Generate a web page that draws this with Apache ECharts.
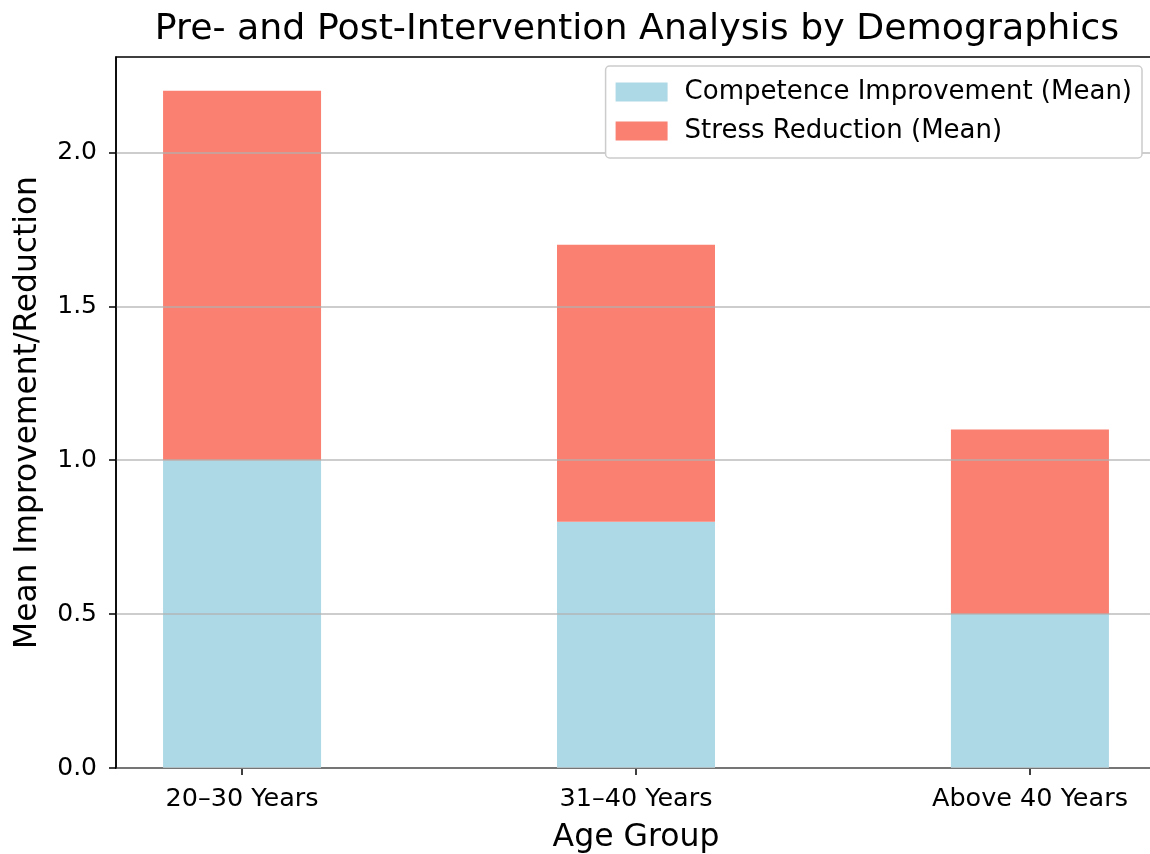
<!DOCTYPE html>
<html>
<head>
<meta charset="utf-8">
<script src="https://cdn.jsdelivr.net/npm/echarts@6/dist/echarts.min.js"></script>
<style>
html,body{margin:0;padding:0;background:#fff;}
#chart{width:1150px;height:854px;}
</style>
</head>
<body>
<div id="chart"></div>
<script>
const categories = ['20–30 Years', '31–40 Years', 'Above 40 Years'];
const competence = [1.0, 0.8, 0.5];
const stress = [1.2, 0.9, 0.6];
const seriesNames = ['Competence Improvement (Mean)', 'Stress Reduction (Mean)'];
const yTicks = [0.0, 0.5, 1.0, 1.5, 2.0];

const FONT = 'DejaVu Sans';
const chart = echarts.init(document.getElementById('chart'), null, {renderer: 'canvas'});

// value first, category index second (so the value dimension is the stacked one)
const toPairs = arr => arr.map((v, i) => [v, i]);
const catIdx = categories.map((c, i) => i);

chart.setOption({
  animation: false,
  backgroundColor: '#fff',
  textStyle: {fontFamily: FONT, color: '#000'},
  title: {
    text: 'Pre- and Post-Intervention Analysis by Demographics',
    left: 632,
    top: 7,
    textAlign: 'center',
    textStyle: {fontFamily: FONT, fontSize: 36.3, fontWeight: 'normal', color: '#000'}
  },
  legend: {
    orient: 'vertical',
    right: 8,
    top: 66,
    icon: 'rect',
    itemWidth: 52,
    itemHeight: 19,
    itemGap: 13,
    padding: [13, 10, 14, 10],
    borderColor: '#cccccc',
    borderWidth: 1.5,
    borderRadius: 4,
    backgroundColor: '#fff',
    textStyle: {fontFamily: FONT, fontSize: 26, color: '#000', padding: [0, 0, 0, 12]},
    data: seriesNames
  },
  grid: {
    left: 116, top: 57, right: -6, bottom: 86,
    outerBoundsMode: 'none',
    containLabel: false,
    show: true, borderColor: '#000', borderWidth: 1.5, backgroundColor: 'transparent'
  },
  xAxis: {
    type: 'value',
    min: -0.32, max: 2.32,
    name: 'Age Group',
    nameLocation: 'middle',
    nameGap: 54,
    nameTextStyle: {fontFamily: FONT, fontSize: 31.5, color: '#000'},
    axisLine: {show: true, onZero: false, lineStyle: {color: '#000', width: 1.5}},
    axisTick: {show: true, customValues: catIdx, length: 7, lineStyle: {color: '#000', width: 1.5}},
    axisLabel: {
      customValues: catIdx,
      formatter: v => categories[Math.round(v)] || '',
      fontFamily: FONT, fontSize: 25.5, color: '#000', margin: 18
    },
    splitLine: {show: false}
  },
  yAxis: {
    type: 'value',
    min: 0, max: 2.31,
    z: 3,
    name: 'Mean Improvement/Reduction',
    nameLocation: 'middle',
    nameGap: 73,
    nameTextStyle: {fontFamily: FONT, fontSize: 31.3, color: '#000'},
    axisLine: {show: true, onZero: false, lineStyle: {color: '#000', width: 1.5}},
    axisTick: {show: true, customValues: yTicks, length: 7, lineStyle: {color: '#000', width: 1.5}},
    axisLabel: {
      customValues: yTicks,
      formatter: v => v.toFixed(1),
      fontFamily: FONT, fontSize: 25, color: '#000', margin: 19
    },
    splitLine: {show: true, lineStyle: {color: '#b0b0b0', width: 1.5, opacity: 0.85}}
  },
  series: [
    {
      name: seriesNames[0],
      type: 'bar',
      stack: 'total',
      barWidth: 158,
      encode: {x: 1, y: 0},
      itemStyle: {color: '#ADD8E6'},
      data: toPairs(competence)
    },
    {
      name: seriesNames[1],
      type: 'bar',
      stack: 'total',
      barWidth: 158,
      encode: {x: 1, y: 0},
      itemStyle: {color: '#FA8072'},
      data: toPairs(stress)
    }
  ]
});
</script>
</body>
</html>
